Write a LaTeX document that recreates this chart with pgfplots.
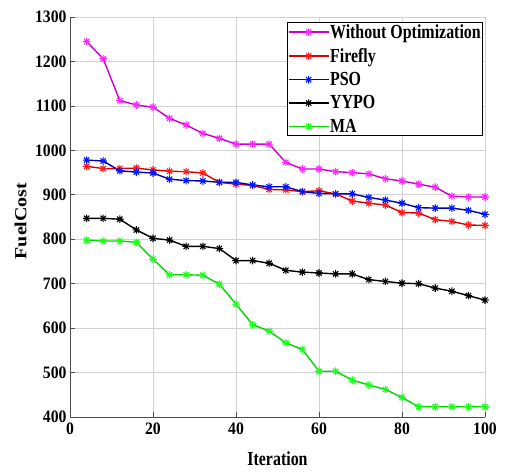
\documentclass[border=0pt]{standalone}
\usepackage{fontspec}
\setmainfont{Liberation Serif}
\newfontfamily\tallfont[FakeStretch=0.8]{Liberation Serif}
\newfontfamily\tickfont[FakeStretch=0.9]{Liberation Serif}
\newfontfamily\widefont[FakeStretch=1.18]{Liberation Serif}
\usepackage{pgfplots}
\pgfplotsset{compat=1.18}
\definecolor{mgl}{rgb}{0.8,0,0.8}
\definecolor{mgm}{rgb}{1,0.15,1}
\definecolor{rdl}{rgb}{0.85,0,0}
\definecolor{rdm}{rgb}{1,0.1,0.1}
\definecolor{bll}{rgb}{0,0,0.7}
\definecolor{blm}{rgb}{0,0.1,1}
\definecolor{gnl}{rgb}{0,0.85,0}
\definecolor{gnm}{rgb}{0.1,1,0.1}
\pgfdeclareplotmark{ast8}{%
  \pgfpathmoveto{\pgfqpoint{-\pgfplotmarksize}{0pt}}\pgfpathlineto{\pgfqpoint{\pgfplotmarksize}{0pt}}%
  \pgfpathmoveto{\pgfqpoint{0pt}{-\pgfplotmarksize}}\pgfpathlineto{\pgfqpoint{0pt}{\pgfplotmarksize}}%
  \pgfpathmoveto{\pgfqpoint{-0.707\pgfplotmarksize}{-0.707\pgfplotmarksize}}\pgfpathlineto{\pgfqpoint{0.707\pgfplotmarksize}{0.707\pgfplotmarksize}}%
  \pgfpathmoveto{\pgfqpoint{-0.707\pgfplotmarksize}{0.707\pgfplotmarksize}}\pgfpathlineto{\pgfqpoint{0.707\pgfplotmarksize}{-0.707\pgfplotmarksize}}%
  \pgfusepathqstroke}
\begin{document}
\begin{tikzpicture}
\useasboundingbox (-70bp,-56bp) rectangle (435bp,417bp);
\begin{axis}[
  at={(0,0)}, anchor=south west,
  scale only axis, width=415bp, height=400bp,
  xmin=0, xmax=100, ymin=400, ymax=1300,
  xtick={0,20,...,100}, ytick={400,500,...,1300},
  axis lines=left, axis line style={-, black!70, line width=1pt},
  grid=major, major grid style={gray!35, line width=0.7pt},
  tick style={black!70, line width=0.6pt},
  tick align=inside, major tick length=5bp,
  /pgf/number format/assume math mode=true,
  /pgf/number format/1000 sep={},
  tick label style={font=\tickfont\fontsize{17.5}{17.5}\selectfont\bfseries},
  xticklabel style={yshift=-2bp},
  xlabel={Iteration}, ylabel={FuelCost},
  xlabel style={font=\tallfont\fontsize{20}{20}\selectfont\bfseries, at={(axis description cs:0.5,-0.105)}, anchor=center},
  ylabel style={font=\widefont\fontsize{17}{17}\selectfont\bfseries, at={(axis description cs:-0.119,0.49)}, anchor=center, rotate=0},
  legend style={at={(0.9952,0.987)}, anchor=north east, draw=black, line width=0.8pt,
    font=\tallfont\fontsize{20}{20}\selectfont\bfseries, inner sep=1pt, row sep=7bp,
    nodes={inner sep=0.8bp}},
  legend cell align=left,
  legend image code/.code={\draw[mark repeat=2,mark phase=2,#1,line width=1.4pt] plot coordinates {(0bp,0bp)(20bp,0bp)(40bp,0bp)};},
  every axis plot/.append style={line width=1.4pt, mark=ast8, mark size=3.8pt},
]
\addplot[color=mgl, mark options={draw=mgm, line width=1.1pt}] coordinates {
(4,1245)(8,1206)(12,1112)(16,1102)(20,1097)(24,1072)(28,1057)(32,1038)(36,1027)(40,1014)(44,1014)(48,1014)
(52,973)(56,958)(60,958)(64,952)(68,950)(72,947)(76,936)(80,931)(84,924)(88,917)(92,897)(96,895)(100,895)};
\addlegendentry{Without Optimization}
\addplot[color=rdl, mark options={draw=rdm, line width=1.1pt}] coordinates {
(4,964)(8,959)(12,959)(16,960)(20,956)(24,953)(28,952)(32,949)(36,928)(40,924)(44,921)(48,912)
(52,911)(56,907)(60,909)(64,902)(68,886)(72,881)(76,877)(80,860)(84,859)(88,844)(92,840)(96,832)(100,831)};
\addlegendentry{Firefly}
\addplot[color=bll, mark options={draw=blm, line width=1.1pt}] coordinates {
(4,978)(8,976)(12,954)(16,951)(20,949)(24,935)(28,932)(32,931)(36,928)(40,928)(44,922)(48,918)
(52,918)(56,907)(60,903)(64,902)(68,902)(72,894)(76,888)(80,881)(84,871)(88,870)(92,870)(96,865)(100,856)};
\addlegendentry{PSO}
\addplot[color=black, mark options={draw=black, line width=1.1pt}] coordinates {
(4,847)(8,847)(12,845)(16,821)(20,802)(24,798)(28,784)(32,784)(36,779)(40,752)(44,752)(48,746)
(52,730)(56,726)(60,724)(64,722)(68,722)(72,709)(76,705)(80,701)(84,700)(88,690)(92,683)(96,673)(100,663)};
\addlegendentry{YYPO}
\addplot[color=gnl, mark options={draw=gnm, line width=1.1pt}] coordinates {
(4,798)(8,796)(12,796)(16,793)(20,755)(24,720)(28,720)(32,719)(36,699)(40,654)(44,608)(48,593)
(52,567)(56,552)(60,503)(64,503)(68,483)(72,472)(76,462)(80,444)(84,423)(88,423)(92,423)(96,423)(100,423)};
\addlegendentry{MA}
\end{axis}
\end{tikzpicture}
\end{document}
